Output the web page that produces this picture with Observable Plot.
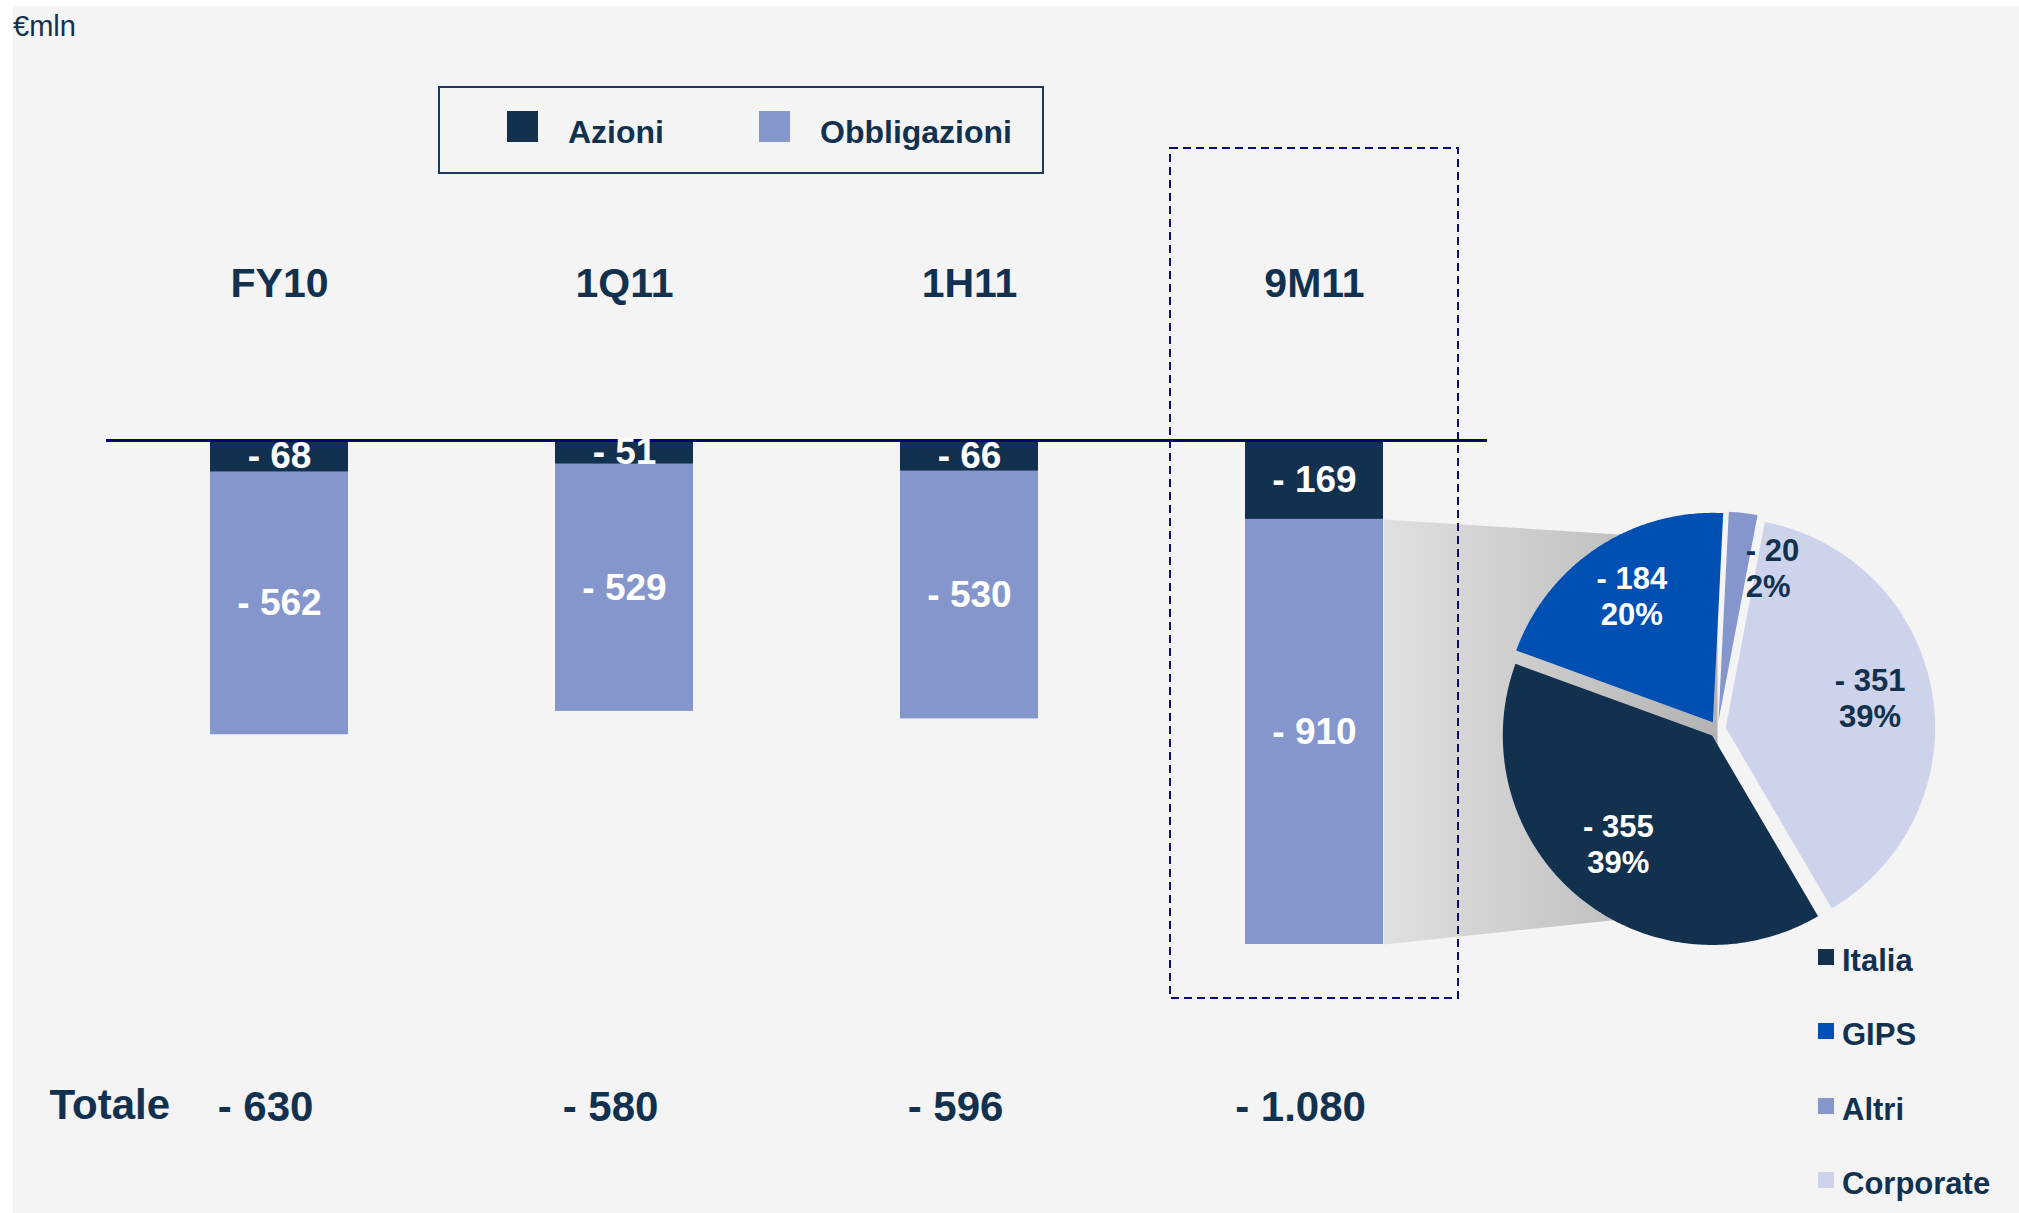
<!DOCTYPE html>
<html>
<head>
<meta charset="utf-8">
<script src="https://cdn.jsdelivr.net/npm/d3@7"></script>
<script src="https://cdn.jsdelivr.net/npm/@observablehq/plot@0.6"></script>
<style>
  html, body { margin: 0; padding: 0; background: #ffffff; width: 2019px; height: 1213px; overflow: hidden; }
  body { position: relative; font-family: "Liberation Sans", Arial, sans-serif; color: #12314f; }
  #bg { position: absolute; left: 13px; top: 6px; right: 0; bottom: 0; background: #f4f4f4; }
  .layer { position: absolute; left: 0; top: 0; }
  #unit { position: absolute; left: 13px; top: 12px; font-size: 29px; line-height: 29px; color: #12314f; }
  #legend { position: absolute; left: 438px; top: 86px; width: 602px; height: 84px; border: 2px solid #1c3a5c; }
  #legend .sw { position: absolute; top: 23px; width: 31px; height: 31px; }
  #legend .lb { position: absolute; top: 28px; font-size: 32px; line-height: 32px; font-weight: bold; color: #12314f; white-space: nowrap; }
  #pielegend .item { position: absolute; left: 1818px; height: 31px; }
  #pielegend .sq { position: absolute; left: 0; top: 4px; width: 16px; height: 16px; }
  #pielegend .tx { position: absolute; left: 24px; top: 0; font-size: 31px; line-height: 31px; font-weight: bold; color: #12314f; white-space: nowrap; }
</style>
</head>
<body>
<div id="bg"></div>
<div id="unit">€mln</div>
<div id="pieLayer" class="layer"></div>
<div id="barLayer" class="layer"></div>
<div id="legend"></div>
<div id="pielegend"></div>
<script>
// ---------- data ----------
const categories = ["FY10", "1Q11", "1H11", "9M11"];
const azioni = [-68, -51, -66, -169];
const obbligazioni = [-562, -529, -530, -910];
const totali = [-630, -580, -596, -1080];
const seriesNames = ["Azioni", "Obbligazioni"];
const seriesColors = ["#12314f", "#8496cc"];
const totalLabel = "Totale";
const highlighted = "9M11";

const pieNames = ["Italia", "GIPS", "Altri", "Corporate"];
const pieValues = [-355, -184, -20, -351];
const pieColors = ["#12314f", "#0050b4", "#8496cc", "#cdd3eb"];

// ---------- layout ----------
const W = 2019, H = 1213;
const mTop = 440, mBottom = 269, mLeft = 106, mRight = 532;
const textColor = "#12314f";
const font = "Liberation Sans, Arial, sans-serif";

const locale = d3.formatLocale({decimal: ",", thousands: ".", grouping: [3], currency: ["", ""]});
const num = locale.format(",");
const fmt = v => "- " + num(Math.abs(v));

const rows = categories.flatMap((c, i) => [
  {cat: c, serie: seriesNames[0], value: azioni[i]},
  {cat: c, serie: seriesNames[1], value: obbligazioni[i]}
]);
const yMin = d3.min(categories, (c, i) => azioni[i] + obbligazioni[i]);
const yDomain = [yMin, 0];

const bars = Plot.plot({
  width: W, height: H,
  marginTop: mTop, marginBottom: mBottom, marginLeft: mLeft, marginRight: mRight,
  style: {background: "transparent", overflow: "visible", fontFamily: font},
  x: {domain: categories, paddingInner: 0.6, paddingOuter: 0.3, axis: null},
  y: {domain: yDomain, axis: null},
  color: {domain: seriesNames, range: seriesColors},
  marks: [
    Plot.cell([highlighted], {x: d => d, fill: "none", stroke: "#0b0b70", strokeWidth: 2,
      strokeDasharray: "8,5", insetLeft: -75, insetRight: -75, insetTop: -292, insetBottom: -54}),
    Plot.barY(rows, {x: "cat", y: "value", z: "serie", fill: "serie", order: seriesNames}),
    Plot.ruleY([0], {stroke: "#00007f", strokeWidth: 3}),
    Plot.text(rows, Plot.stackY({x: "cat", y: "value", z: "serie", order: seriesNames,
      text: d => fmt(d.value), fill: "white", fontSize: 37, fontWeight: "bold", fontFamily: font})),
    Plot.text(categories, {x: d => d, text: d => d, frameAnchor: "top", dy: -173,
      fill: textColor, fontSize: 41, fontWeight: "bold", fontFamily: font}),
    Plot.text(categories, {x: d => d, text: (d, i) => fmt(totali[i]), frameAnchor: "bottom", dy: 176, dx: -14,
      fill: textColor, fontSize: 42, fontWeight: "bold", fontFamily: font}),
    Plot.text([totalLabel], {text: d => d, frameAnchor: "bottom-left", textAnchor: "start", dx: -57, dy: 174,
      fill: textColor, fontSize: 42, fontWeight: "bold", fontFamily: font})
  ]
});
document.getElementById("barLayer").appendChild(bars);

// ---------- pie (exploded breakdown of the highlighted bar) ----------
const xs = bars.scale("x");
const hi = categories.indexOf(highlighted);
const bw = xs.bandwidth != null ? xs.bandwidth : 138;
const barLeftPx = xs.apply ? xs.apply(highlighted) : (mLeft + 345.25 * (hi + 0.3));
const barRightPx = barLeftPx + bw;
const k = (H - mBottom - mTop) / (0 - yMin); // px per unit, used for both axes
const pieGapPx = 334;
const segTop = azioni[hi];
const segBottom = azioni[hi] + obbligazioni[hi];
const cy = (segTop + segBottom) / 2 + 6;
const R = 0.985 * (segTop - segBottom) / 2;
const cx = (barRightPx + pieGapPx) / k;
const explode = 0.04 * R;
const startDeg = 149.6;

const arcs = d3.pie().sort(null).value(d => Math.abs(d.value))
  .startAngle(startDeg * Math.PI / 180).endAngle(startDeg * Math.PI / 180 + 2 * Math.PI)
  (pieNames.map((n, i) => ({name: n, value: pieValues[i], color: pieColors[i]})));
const total = d3.sum(pieValues, v => Math.abs(v));

const slicePts = [];
const labels = [];
for (const a of arcs) {
  const mid = (a.startAngle + a.endAngle) / 2;
  const ox = cx + explode * Math.sin(mid), oy = cy + explode * Math.cos(mid);
  slicePts.push({name: a.data.name, x: ox, y: oy});
  const n = Math.max(2, Math.ceil((a.endAngle - a.startAngle) / 0.01));
  for (let j = 0; j <= n; j++) {
    const t = a.startAngle + (a.endAngle - a.startAngle) * j / n;
    slicePts.push({name: a.data.name, x: ox + R * Math.sin(t), y: oy + R * Math.cos(t)});
  }
  slicePts.push({name: a.data.name, x: ox, y: oy});
  const lr = 0.7 * R;
  labels.push({
    name: a.data.name,
    x: ox + lr * Math.sin(mid), y: oy + lr * Math.cos(mid),
    text: fmt(a.data.value) + "\n" + Math.round(Math.abs(a.data.value) / total * 100) + "%",
    dark: d3.lab(a.data.color).l < 50,
    small: Math.abs(a.data.value) / total < 0.05
  });
}

const connector = [
  {x: barRightPx / k, y: segTop},
  {x: cx, y: cy + 0.9 * R},
  {x: cx, y: cy - 0.86 * R},
  {x: barRightPx / k, y: segBottom}
];

const pie = Plot.plot({
  width: W, height: H,
  marginTop: mTop, marginBottom: mBottom, marginLeft: 0, marginRight: 0,
  style: {background: "transparent", overflow: "visible", fontFamily: font},
  x: {domain: [0, W / k], axis: null},
  y: {domain: yDomain, axis: null},
  color: {domain: pieNames, range: pieColors},
  marks: [
    Plot.line(connector, {x: "x", y: "y", fill: "url(#conn-grad)", stroke: "none", curve: "linear"}),
    Plot.line(slicePts, {x: "x", y: "y", z: "name", fill: "name", stroke: "none", curve: "linear"}),
    Plot.text(labels.filter(d => d.dark && !d.small), {x: "x", y: "y", text: "text", fill: "white", dy: -5,
      fontSize: 31, fontWeight: "bold", lineHeight: 1.16, fontFamily: font}),
    Plot.text(labels.filter(d => !d.dark && !d.small), {x: "x", y: "y", text: "text", fill: textColor, dy: -5,
      fontSize: 31, fontWeight: "bold", lineHeight: 1.16, fontFamily: font}),
    Plot.text(labels.filter(d => d.small), {x: "x", y: "y", text: "text", fill: textColor,
      textAnchor: "start", dx: 10, dy: -8,
      fontSize: 31, fontWeight: "bold", lineHeight: 1.16, fontFamily: font})
  ]
});
const defs = d3.select(pie).insert("defs", ":first-child");
const grad = defs.append("linearGradient").attr("id", "conn-grad")
  .attr("x1", "0").attr("x2", "1").attr("y1", "0").attr("y2", "0");
grad.append("stop").attr("offset", "0").attr("stop-color", "#e0e0e0");
grad.append("stop").attr("offset", "1").attr("stop-color", "#b3b3b3");
document.getElementById("pieLayer").appendChild(pie);

// ---------- legends ----------
const legend = d3.select("#legend");
const legendPos = [{sw: 67, lb: 128}, {sw: 319, lb: 380}];
seriesNames.forEach((s, i) => {
  legend.append("div").attr("class", "sw").style("left", legendPos[i].sw + "px").style("background", seriesColors[i]);
  legend.append("div").attr("class", "lb").style("left", legendPos[i].lb + "px").text(s);
});

const pl = d3.select("#pielegend");
pieNames.forEach((n, i) => {
  const it = pl.append("div").attr("class", "item").style("top", (945 + i * 74.3) + "px");
  it.append("div").attr("class", "sq").style("background", pieColors[i]);
  it.append("div").attr("class", "tx").text(n);
});
</script>
</body>
</html>
